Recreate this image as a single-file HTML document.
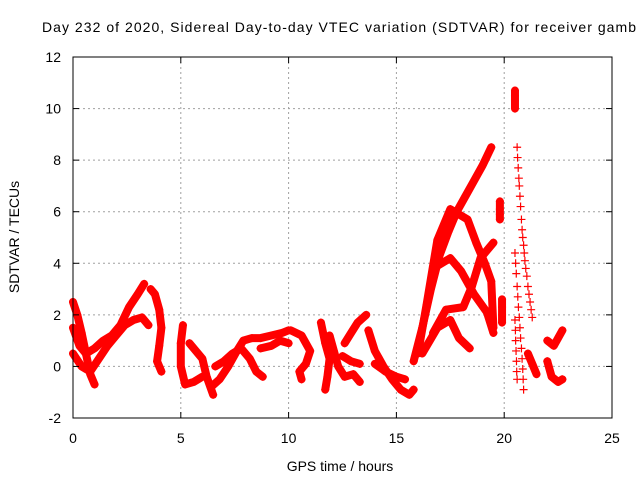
<!DOCTYPE html>
<html><head><meta charset="utf-8"><style>
body{margin:0;background:#fff;}
svg{display:block;font-family:"Liberation Sans",sans-serif;}
</style></head><body>
<svg id="chart" width="640" height="480">
<text x="42" y="32" font-size="14" fill="#000" textLength="594" lengthAdjust="spacing">Day 232 of 2020, Sidereal Day-to-day VTEC variation (SDTVAR) for receiver gamb</text>
<text x="19" y="237" font-size="14" text-anchor="middle" transform="rotate(-90 19 237)">SDTVAR / TECUs</text>
<text x="340" y="471" font-size="14" text-anchor="middle">GPS time / hours</text>
<g id="grid"></g><g id="marks"></g><g id="axes"></g>
</svg>
<script>
const xTicks=[0,5,10,15,20,25];
const yTicks=[-2,0,2,4,6,8,10,12];
const tracks=[
[[0,2.5],[0.2,2.0],[0.4,1.3],[0.6,0.5],[0.8,-0.3],[1.0,-0.7]],
[[0,1.5],[0.3,0.8],[0.6,0.5],[1.0,0.7],[1.4,1.0],[1.8,1.2],[2.2,1.6],[2.6,2.3],[3.0,2.8],[3.3,3.2]],
[[0,0.5],[0.4,0.0],[0.8,-0.2],[1.2,0.3],[1.6,0.8],[2.0,1.2],[2.4,1.6],[2.8,1.8],[3.2,1.9],[3.5,1.6]],
[[3.6,3.0],[3.8,2.8],[4.0,2.2],[4.1,1.5],[4.0,0.8],[3.9,0.2],[4.1,-0.2]],
[[5.1,1.6],[5.0,0.9],[5.0,0.0],[5.2,-0.7],[5.6,-0.6],[6.0,-0.4]],
[[5.4,0.9],[5.7,0.6],[6.0,0.3],[6.2,-0.4],[6.5,-1.1]],
[[6.4,-0.8],[6.8,-0.5],[7.2,0.0],[7.6,0.6],[7.9,1.0],[8.3,1.1],[8.7,1.1],[9.2,1.2],[9.7,1.3],[10.0,1.4]],
[[6.6,0.0],[7.0,0.2],[7.4,0.5],[7.8,0.7],[8.2,0.3],[8.5,-0.2],[8.8,-0.4]],
[[8.7,0.7],[9.2,0.8],[9.6,1.0],[10.0,0.9]],
[[10.1,1.4],[10.6,1.2],[11.0,0.6],[10.8,0.1],[10.5,-0.2],[10.6,-0.5]],
[[11.5,1.7],[11.7,0.9],[11.9,0.3],[11.8,-0.4],[11.7,-0.9]],
[[11.9,1.2],[12.1,0.6],[12.3,0.0],[12.6,-0.4],[13.0,-0.3],[13.3,-0.6]],
[[12.6,0.9],[12.9,1.3],[13.2,1.7],[13.6,2.0]],
[[12.5,0.4],[12.9,0.2],[13.3,0.1]],
[[13.7,1.4],[14.0,0.6],[14.4,0.0],[14.8,-0.5],[15.2,-0.9],[15.6,-1.1],[15.8,-0.9]],
[[14.0,0.1],[14.5,-0.2],[15.0,-0.4],[15.4,-0.5]],
[[15.8,0.2],[16.2,1.5],[16.6,3.0],[17.0,4.3],[17.4,5.2],[17.8,6.0],[18.2,6.6],[18.6,7.2],[19.0,7.8],[19.4,8.5]],
[[16.0,0.5],[16.4,2.4],[16.9,4.9],[17.5,6.1],[18.3,5.7],[18.7,4.8],[19.1,4.0],[19.4,3.3],[19.5,1.5]],
[[16.7,3.8],[17.5,4.2],[18.0,3.7],[18.6,2.8],[19.2,2.1],[19.5,1.3]],
[[16.7,1.3],[17.3,2.2],[18.1,2.3],[18.5,3.1],[18.9,4.2],[19.5,4.8]],
[[16.2,0.5],[16.9,1.5],[17.5,1.8],[17.9,1.1],[18.4,0.7]],
[[19.8,6.4],[19.8,6.1],[19.8,5.9],[19.8,5.7]],
[[19.9,2.6],[19.9,2.3],[19.9,2.0],[19.9,1.7]],
[[20.5,10.7],[20.5,10.5],[20.5,10.3],[20.5,10.0]],
[[20.6,8.5],[20.62,8.1],[20.65,7.7],[20.68,7.3],[20.7,7.0],[20.73,6.6],[20.76,6.2],[20.8,5.7],[20.83,5.3],[20.86,5.0],[20.9,4.7],[20.93,4.4],[20.96,4.1],[21.0,3.8],[21.05,3.5],[21.1,3.1],[21.15,2.8],[21.2,2.5],[21.25,2.2],[21.3,1.9]],
[[20.5,4.4],[20.53,4.0],[20.56,3.6],[20.6,3.1],[20.63,2.7],[20.66,2.3],[20.7,1.9],[20.73,1.5],[20.76,1.1],[20.8,0.7],[20.83,0.3],[20.86,-0.1],[20.88,-0.5],[20.9,-0.9]],
[[20.5,1.8],[20.52,1.4],[20.53,1.0],[20.55,0.6],[20.57,0.2],[20.58,-0.2],[20.6,-0.5]],
[[21.1,0.5],[21.3,0.1],[21.5,-0.3]],
[[22.0,1.0],[22.3,0.8],[22.7,1.4]],
[[22.0,0.2],[22.2,-0.4],[22.5,-0.6],[22.7,-0.5]]
];
const sparse=[24,25,26];
const X0=73,X1=612,Y0=418,Y1=57;
const sx=t=>X0+(t-0)/25*(X1-X0);
const sy=v=>Y0-(v+2)/14*(Y0-Y1);
const NS="http://www.w3.org/2000/svg";
function mk(tag,attrs,parent){const e=document.createElementNS(NS,tag);for(const k in attrs)e.setAttribute(k,attrs[k]);parent.appendChild(e);return e;}
const grid=document.getElementById('grid'),axes=document.getElementById('axes'),marks=document.getElementById('marks');
xTicks.forEach(t=>{
 if(t>0&&t<25){const g=mk('line',{x1:sx(t),x2:sx(t),y1:Y1,y2:Y0,stroke:'#a0a0a0','stroke-dasharray':'2,3'},grid);
 
 }
 mk('line',{x1:sx(t),x2:sx(t),y1:Y0,y2:Y0-6,stroke:'#000'},axes);
 mk('line',{x1:sx(t),x2:sx(t),y1:Y1,y2:Y1+6,stroke:'#000'},axes);
 const l=mk('text',{x:sx(t),y:443,'font-size':14,'text-anchor':'middle'},axes);l.textContent=t;
 
 
});
yTicks.forEach(v=>{
 if(v>-2&&v<12){const g=mk('line',{x1:X0,x2:X1,y1:sy(v),y2:sy(v),stroke:'#a0a0a0','stroke-dasharray':'2,3'},grid);
 
 }
 mk('line',{x1:X0,x2:X0+6,y1:sy(v),y2:sy(v),stroke:'#000'},axes);
 mk('line',{x1:X1,x2:X1-6,y1:sy(v),y2:sy(v),stroke:'#000'},axes);
 const l=mk('text',{x:61,y:sy(v)+5,'font-size':14,'text-anchor':'end'},axes);l.textContent=v;
 
 
});
const fr=mk('rect',{x:X0,y:Y1,width:X1-X0,height:Y0-Y1,fill:'none',stroke:'#000'},axes);


tracks.forEach((tr,i)=>{
 const g=mk('g',{},marks);
 
 
 if(!sparse.includes(i)){
  const p=mk('polyline',{points:tr.map(d=>sx(d[0])+','+sy(d[1])).join(' '),fill:'none',stroke:'#f00','stroke-width':8,'stroke-linejoin':'round','stroke-linecap':'round'},g);
  
  
 }
 tr.forEach(d=>{
  const x=sx(d[0]),y=sy(d[1]);
  const m=mk('path',{d:`M${x-4},${y}H${x+4}M${x},${y-4}V${y+4}`,stroke:'#f00','stroke-width':1.2},g);
  
  
 });
});
</script>
</body></html>
